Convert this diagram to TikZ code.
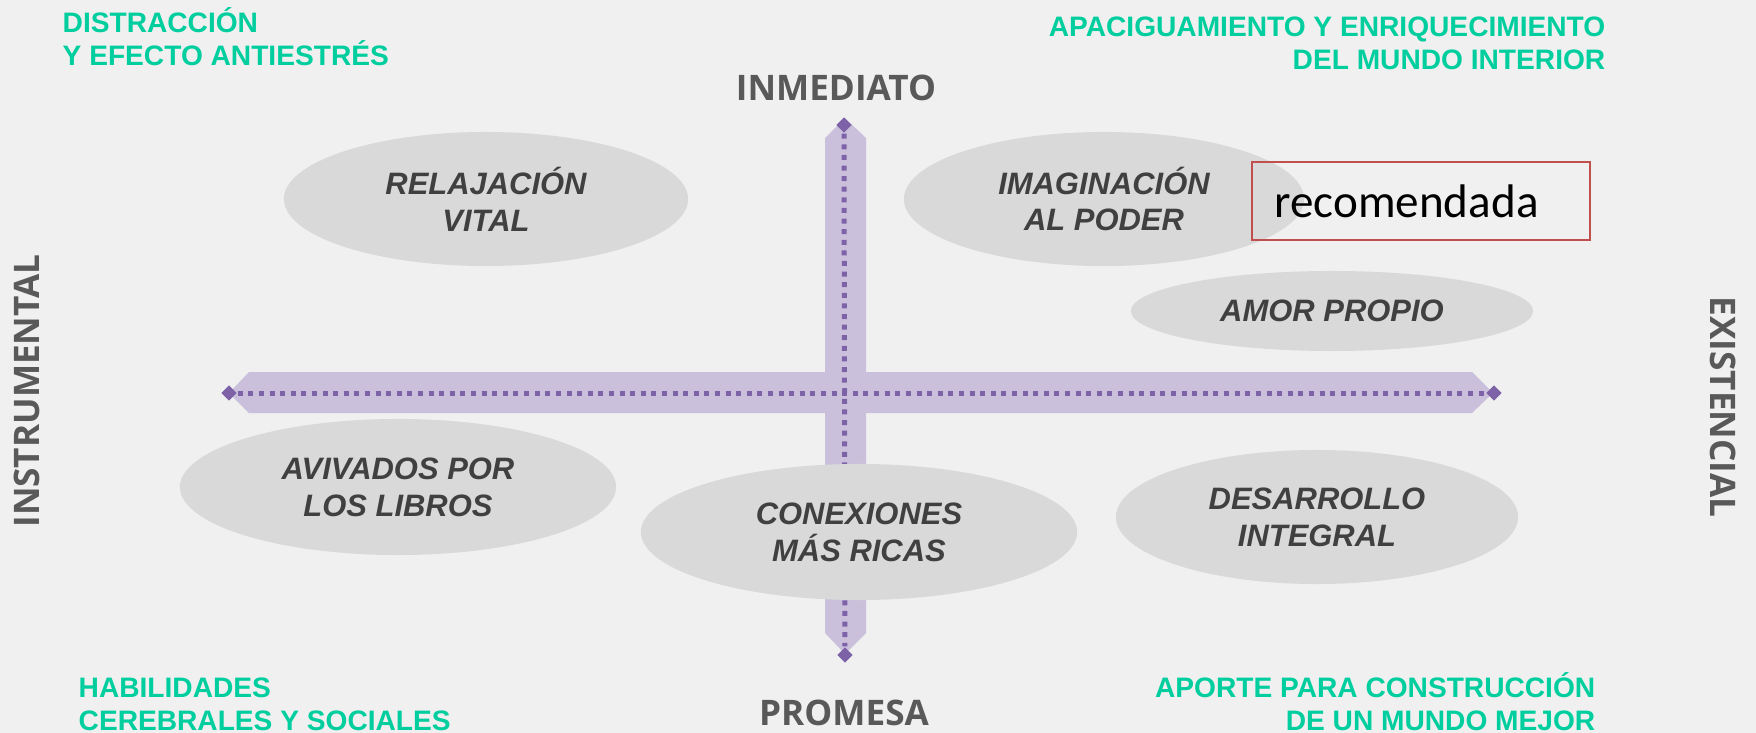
\documentclass[tikz,border=0pt]{standalone}
\usepackage{fontspec}
\setmainfont{Liberation Sans}
\newfontfamily\ejefont{Open Sans}
\newfontfamily\notafont{Carlito}
\usetikzlibrary{shapes.geometric}

\definecolor{fondoGris}{HTML}{F0F0F0}
\definecolor{verdeNota}{HTML}{00CE9E}
\definecolor{lilaEje}{HTML}{CBC0DC}
\definecolor{moradoEje}{HTML}{7E62A8}
\definecolor{grisNube}{HTML}{D9D9D9}
\definecolor{tintaNube}{HTML}{404040}
\definecolor{grisEje}{HTML}{595959}
\definecolor{rojoNota}{HTML}{C0504D}

\tikzset{
  nube/.style={ellipse,fill=grisNube,inner sep=0pt,text=tintaNube,align=center,
    font=\fontsize{8.8pt}{10.5pt}\selectfont\bfseries\itshape},
  eje/.style={text=grisEje,inner sep=0pt,font=\ejefont\fontsize{10pt}{12pt}\selectfont\bfseries},
  nota/.style={text=verdeNota,inner sep=0pt,font=\fontsize{8pt}{9.2pt}\selectfont\bfseries},
  punta/.style={diamond,fill=moradoEje,inner sep=0pt,minimum size=0.16cm},
  puntos/.style={moradoEje,line width=0.05cm,dash pattern=on 0.05cm off 0.056cm},
}

\begin{document}
\begin{tikzpicture}[x=0.01cm,y=-0.01cm]

  % Fondo
  \useasboundingbox (0,0) rectangle (1756,733);
  \fill[fondoGris] (0,0) rectangle (1756,733);

  % Bandas de los ejes
  \fill[lilaEje] (229,393) -- (249,372) -- (1472,372) -- (1493,393) -- (1472,413) -- (249,413) -- cycle;
  \fill[lilaEje] (845,118) -- (866,138) -- (866,633) -- (845,654) -- (825,633) -- (825,138) -- cycle;

  % Puntas de los ejes
  \node[punta] (arriba) at (844,125) {};
  \node[punta] (abajo) at (845,655) {};
  \node[punta] (izq) at (229,393) {};
  \node[punta] (der) at (1494,393) {};

  % Lineas punteadas
  \draw[puntos] (izq) -- (der);
  \draw[puntos] (arriba) -- (abajo);

  % Nubes de efectos
  \node[nube,minimum width=4.04cm,minimum height=1.34cm] (relax) at (486,199) {RELAJACIÓN\\VITAL};
  \node[nube,minimum width=4.00cm,minimum height=1.34cm] (imag) at (1104,199) {IMAGINACIÓN\\AL PODER};
  \node[nube,minimum width=4.02cm,minimum height=0.80cm] (amor) at (1332,311) {AMOR PROPIO};
  \node[nube,minimum width=4.36cm,minimum height=1.36cm] (aviv) at (398,487) {AVIVADOS POR\\LOS LIBROS};
  \node[nube,minimum width=4.36cm,minimum height=1.36cm] (conex) at (859,532) {CONEXIONES\\MÁS RICAS};
  \node[nube,minimum width=4.02cm,minimum height=1.34cm] (desarr) at (1317,517) {DESARROLLO\\INTEGRAL};

  % Nombres de los ejes
  \node[eje,anchor=base] (inmed) at (836,100) {INMEDIATO};
  \node[eje,anchor=base] (prom) at (844,725) {PROMESA};
  \node[eje,rotate=90] (instr) at (27,391) {INSTRUMENTAL};
  \node[eje,rotate=-90] (exist) at (1723,407) {EXISTENCIAL};

  % Notas de las esquinas
  \node[nota,anchor=base west,align=left] (distr) at (62,65) {DISTRACCIÓN\\Y EFECTO ANTIESTRÉS};
  \node[nota,anchor=base east,align=right] (apac) at (1606,69) {APACIGUAMIENTO Y ENRIQUECIMIENTO\\DEL MUNDO INTERIOR};
  \node[nota,anchor=base west,align=left] (habil) at (78,730) {HABILIDADES\\CEREBRALES Y SOCIALES};
  \node[nota,anchor=base east,align=right] (aporte) at (1596,730) {APORTE PARA CONSTRUCCIÓN\\DE UN MUNDO MEJOR};

  % Recuadro recomendada
  \node[draw=rojoNota,line width=0.02cm,inner xsep=0.22cm,inner ysep=0pt,
    text width=2.93cm,minimum height=0.77cm,align=left,
    font=\notafont\fontsize{13.4pt}{16pt}\selectfont] (reco) at (1421,201) {recomendada};

\end{tikzpicture}
\end{document}
